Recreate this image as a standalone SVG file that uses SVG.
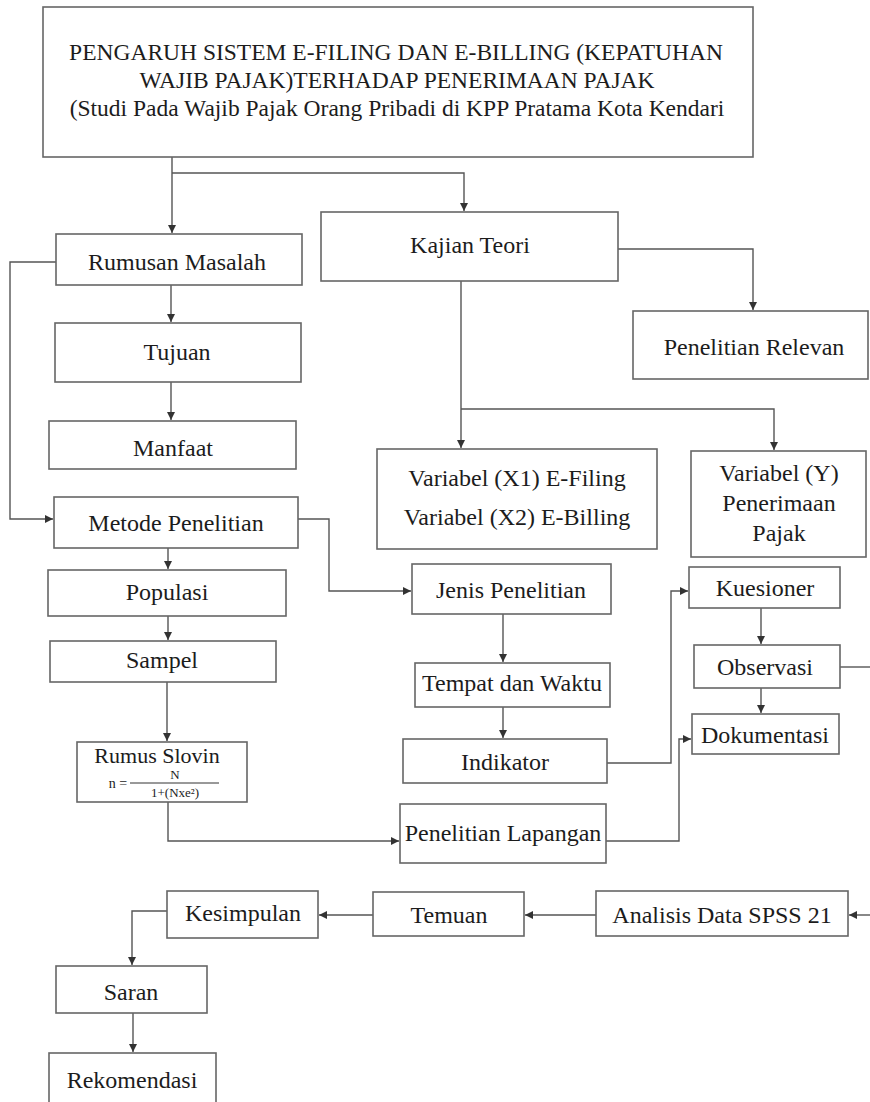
<svg xmlns="http://www.w3.org/2000/svg" width="870" height="1102" viewBox="0 0 870 1102">
<defs>
<marker id="ah" viewBox="0 0 10 10" refX="10" refY="5" markerWidth="8" markerHeight="8" markerUnits="userSpaceOnUse" orient="auto">
<path d="M0,0 L10,5 L0,10 z" fill="#333"/>
</marker>
<style>
.box{fill:#fff;stroke:#666;stroke-width:1.6}
.t{font-size:24px;fill:#1c1c1c;text-anchor:middle}
.tt{font-size:23.5px;fill:#1c1c1c;text-anchor:middle}
.f{font-size:13px;fill:#1c1c1c;text-anchor:middle}
.c{fill:none;stroke:#555;stroke-width:1.4}
.a{marker-end:url(#ah)}
</style>
</defs>
<rect width="870" height="1102" fill="#fff"/>
<g id="connectors">
<path class="c a" d="M172,157 V233"/>
<path class="c a" d="M172,173 H464 V211"/>
<path class="c a" d="M171,285 V322"/>
<path class="c a" d="M171,382 V420"/>
<path class="c a" d="M56,262 H10 V519 H53"/>
<path class="c a" d="M168,548 V569"/>
<path class="c a" d="M168,616 V640"/>
<path class="c a" d="M167,682 V741"/>
<path class="c a" d="M168,802 V841 H399"/>
<path class="c a" d="M298,519 H329 V591 H411"/>
<path class="c a" d="M503,614 V662"/>
<path class="c a" d="M503,707 V738"/>
<path class="c a" d="M607,763 H671 V591 H688"/>
<path class="c a" d="M761,608 V644"/>
<path class="c a" d="M761,688 V713"/>
<path class="c" d="M840,667 H870"/>
<path class="c a" d="M606,841 H679 V739 H691"/>
<path class="c a" d="M618,249 H753 V310"/>
<path class="c a" d="M461,281 V448"/>
<path class="c a" d="M461,409 H774 V450"/>
<path class="c a" d="M870,915 H849"/>
<path class="c a" d="M596,915 H525"/>
<path class="c a" d="M373,915 H319"/>
<path class="c a" d="M167,911 H132 V965"/>
<path class="c a" d="M133,1013 V1052"/>
</g>
<g font-family="Liberation Serif, Times New Roman, serif">
<g id="title">
<rect class="box" x="43" y="7" width="710" height="150"/>
<text class="tt" x="396" y="60">PENGARUH SISTEM E-FILING DAN E-BILLING (KEPATUHAN</text>
<text class="tt" x="397" y="88">WAJIB PAJAK)TERHADAP PENERIMAAN PAJAK</text>
<text class="tt" x="397" y="116">(Studi Pada Wajib Pajak Orang Pribadi di KPP Pratama Kota Kendari</text>
</g>
<g id="rumusan-masalah">
<rect class="box" x="56" y="234" width="246" height="51"/>
<text class="t" x="177" y="270">Rumusan Masalah</text>
</g>
<g id="tujuan">
<rect class="box" x="55" y="323" width="246" height="59"/>
<text class="t" x="177" y="360">Tujuan</text>
</g>
<g id="manfaat">
<rect class="box" x="49" y="421" width="247" height="48"/>
<text class="t" x="173" y="456">Manfaat</text>
</g>
<g id="metode-penelitian">
<rect class="box" x="54" y="497" width="244" height="51"/>
<text class="t" x="176" y="531">Metode Penelitian</text>
</g>
<g id="populasi">
<rect class="box" x="48" y="570" width="238" height="46"/>
<text class="t" x="167" y="600">Populasi</text>
</g>
<g id="sampel">
<rect class="box" x="50" y="641" width="226" height="41"/>
<text class="t" x="162" y="668">Sampel</text>
</g>
<g id="rumus-slovin">
<rect class="box" x="77" y="742" width="170" height="60"/>
<text class="t" x="157" y="763" style="font-size:22px">Rumus Slovin</text>
<text class="f" x="118" y="788" style="font-size:14px">n =</text>
<line x1="130" y1="783" x2="219" y2="783" stroke="#333" stroke-width="1"/>
<text class="f" x="175" y="779">N</text>
<text class="f" x="175" y="797">1+(Nxe²)</text>
</g>
<g id="kajian-teori">
<rect class="box" x="321" y="212" width="297" height="69"/>
<text class="t" x="470" y="253">Kajian Teori</text>
</g>
<g id="penelitian-relevan">
<rect class="box" x="633" y="311" width="235" height="68"/>
<text class="t" x="754" y="355">Penelitian Relevan</text>
</g>
<g id="variabel-x">
<rect class="box" x="377" y="449" width="280" height="100"/>
<text class="t" x="517" y="486">Variabel (X1) E-Filing</text>
<text class="t" x="517" y="525">Variabel (X2) E-Billing</text>
</g>
<g id="variabel-y">
<rect class="box" x="691" y="451" width="175" height="106"/>
<text class="t" x="779" y="481">Variabel (Y)</text>
<text class="t" x="779" y="511">Penerimaan</text>
<text class="t" x="779" y="541">Pajak</text>
</g>
<g id="jenis-penelitian">
<rect class="box" x="412" y="564" width="199" height="50"/>
<text class="t" x="511" y="598">Jenis Penelitian</text>
</g>
<g id="tempat-waktu">
<rect class="box" x="415" y="663" width="195" height="44"/>
<text class="t" x="512" y="691">Tempat dan Waktu</text>
</g>
<g id="indikator">
<rect class="box" x="403" y="739" width="204" height="44"/>
<text class="t" x="505" y="770">Indikator</text>
</g>
<g id="kuesioner">
<rect class="box" x="689" y="567" width="151" height="41"/>
<text class="t" x="765" y="596">Kuesioner</text>
</g>
<g id="observasi">
<rect class="box" x="694" y="645" width="146" height="43"/>
<text class="t" x="765" y="675">Observasi</text>
</g>
<g id="dokumentasi">
<rect class="box" x="692" y="714" width="147" height="40"/>
<text class="t" x="765" y="743">Dokumentasi</text>
</g>
<g id="penelitian-lapangan">
<rect class="box" x="400" y="804" width="206" height="59"/>
<text class="t" x="503" y="841">Penelitian Lapangan</text>
</g>
<g id="kesimpulan">
<rect class="box" x="167" y="891" width="151" height="47"/>
<text class="t" x="243" y="921">Kesimpulan</text>
</g>
<g id="temuan">
<rect class="box" x="373" y="892" width="151" height="44"/>
<text class="t" x="449" y="923">Temuan</text>
</g>
<g id="analisis-data">
<rect class="box" x="596" y="891" width="252" height="45"/>
<text class="t" x="722" y="923">Analisis Data SPSS 21</text>
</g>
<g id="saran">
<rect class="box" x="56" y="966" width="151" height="47"/>
<text class="t" x="131" y="1000">Saran</text>
</g>
<g id="rekomendasi">
<rect class="box" x="49" y="1053" width="167" height="60"/>
<text class="t" x="132" y="1088">Rekomendasi</text>
</g>
</g>
</svg>
